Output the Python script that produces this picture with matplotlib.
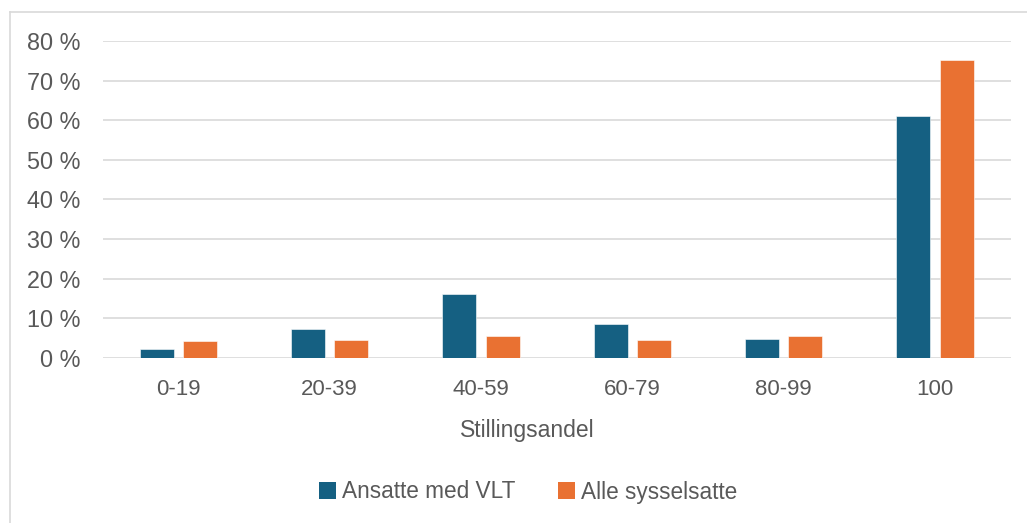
import matplotlib
matplotlib.use("Agg")
import matplotlib.pyplot as plt
import numpy as np
from matplotlib.lines import Line2D
from matplotlib.patches import Patch

categories = ["0-19", "20-39", "40-59", "60-79", "80-99", "100"]
vlt = [2.2, 7.2, 16.2, 8.5, 4.7, 61.0]
alle = [4.2, 4.4, 5.6, 4.5, 5.6, 75.3]
series_names = ["Ansatte med VLT", "Alle sysselsatte"]
yticks = [0, 10, 20, 30, 40, 50, 60, 70, 80]
xlabel = "Stillingsandel"

BLUE = "#156082"
ORANGE = "#E97132"
TEXT = "#595959"
GRID = "#D9D9D9"

plt.rcParams['font.family'] = ['Liberation Sans', 'DejaVu Sans']

W, H = 1027, 523
fig = plt.figure(figsize=(W/100, H/100), dpi=100)
left, right = 102.7/W, 1010.7/W
bottom, top = (H-357.7)/H, (H-41)/H
ax = fig.add_axes([left, bottom, right-left, top-bottom])

x = np.arange(len(categories))
bw = 0.224
off = 0.143
ax.bar(x - off, vlt, bw, color=BLUE, edgecolor="white", linewidth=0.4, zorder=3)
ax.bar(x + off, alle, bw, color=ORANGE, edgecolor="white", linewidth=0.4, zorder=3)

ax.set_xlim(-0.5, len(categories)-0.5)
ax.set_ylim(0, 80)
ax.set_yticks(yticks)
ax.set_yticklabels([f"{v} %" for v in yticks])
ax.set_xticks(x)
ax.set_xticklabels(categories)
ax.tick_params(axis='both', length=0, colors=TEXT)
ax.tick_params(axis='y', pad=16, labelsize=16.8)
ax.tick_params(axis='x', pad=15, labelsize=16)
ax.grid(axis='y', color=GRID, linewidth=1.2, zorder=0)
for s in ax.spines.values():
    s.set_visible(False)

fig.text(527/W, 1-431/H, xlabel, ha='center', va='center', fontsize=16.5, color=TEXT)

handles = [Patch(facecolor=BLUE), Patch(facecolor=ORANGE)]
fig.legend(handles, series_names, loc='center', bbox_to_anchor=(528/W, 1-492/H),
           ncol=2, frameon=False, fontsize=16.3, labelcolor=TEXT,
           handlelength=0.75, handleheight=0.75, handletextpad=0.25, columnspacing=1.9)

# chart area border (left and top)
fig.add_artist(Line2D([10/W, 10/W], [0, 1-12/H], transform=fig.transFigure, color=GRID, linewidth=1.2))
fig.add_artist(Line2D([10/W, 1], [1-12/H, 1-12/H], transform=fig.transFigure, color=GRID, linewidth=1.2))

fig.savefig("out.png", dpi=100)
